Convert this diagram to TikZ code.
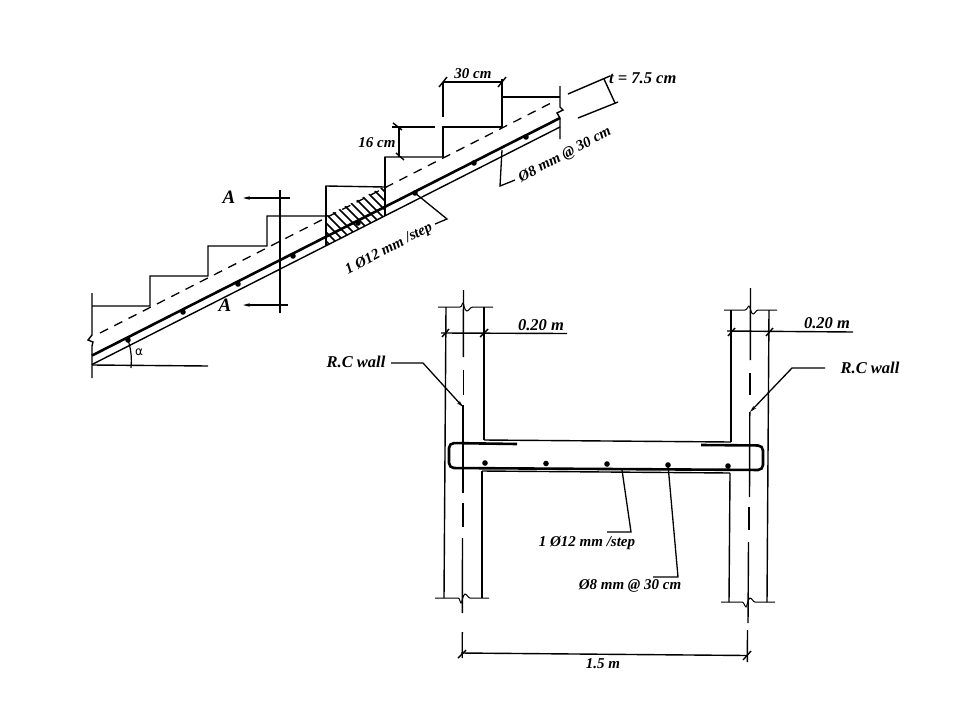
\documentclass[tikz,border=0pt]{standalone}
\usepackage{fontspec}
\setmainfont{Liberation Serif}
\newfontfamily\greekfont{DejaVu Sans}
\usetikzlibrary{arrows.meta}
\tikzset{
  thin line/.style={line width=1pt,black},
  main line/.style={line width=1.4pt,black},
  heavy line/.style={line width=2.6pt,black},
  bar dot/.style={circle,fill=black,inner sep=0pt,minimum size=5.6pt},
  lbl/.style={font=\fontsize{15pt}{17pt}\selectfont\bfseries\itshape,inner sep=0pt,black},
  lblbig/.style={font=\fontsize{16.5pt}{18pt}\selectfont\bfseries\itshape,inner sep=0pt,black},
  lblA/.style={font=\fontsize{19pt}{21pt}\selectfont\bfseries\itshape,inner sep=0pt,black},
  leader/.style={line width=1.3pt,black},
  aarrow/.style={line width=1.1pt,-{Stealth[length=7pt,width=3.5pt]}},
  slash/.style={line width=1.4pt,black}
}
\begin{document}
\begin{tikzpicture}[x=1pt,y=-1pt]
\useasboundingbox (0,0) rectangle (960,720);
\fill[white] (0,0) rectangle (960,720);

% ---------- stair ----------
\draw[main line] (92,293) -- (92,335) -- (88,340) -- (93,342) -- (92,346) -- (92,378);
\draw[main line] (560,86) -- (560,107) -- (563,110) -- (557,113) -- (560,118) -- (560,139);
\draw[main line] (92,306) -- (150,306) -- (150,276) -- (208,276) -- (208,246) -- (267,246)
  -- (267,216) -- (326,216) -- (326,186) -- (385,187) -- (385,157) -- (443,157);
\draw[main line] (443,157) -- (443,127) -- (502,127) -- (502,97) -- (560,97);
\draw[main line] (326,186) -- (326,245);
\draw[main line] (385,157) -- (385,216);
\draw[line width=1.3pt,dash pattern=on 9pt off 7pt] (100,333) -- (553,102);
\draw[heavy line] (92,355.5) -- (560,118);
\draw[main line] (92,364.5) -- (560,127);

% hatching
\begin{scope}
  \clip (326,216) -- (385,186) -- (385,216) -- (326,245.5) -- cycle;
  \foreach \c in {85,94,...,199}
    \draw[line width=1.5pt] (\c+150,150) -- (\c+250,250);
\end{scope}

% bars in the slope
\foreach \n/\x/\y in {a/128/340,b/183/312,c/238/284,d/293/256,e/358/223,f/415/193,g/474/163,h/526/137}
  \node[bar dot] (s\n) at (\x,\y) {};

% section A-A
\draw[main line] (280,190) -- (280,313);
\coordinate (at) at (290,198); \coordinate (ath) at (243,198);
\coordinate (ab) at (288,305); \coordinate (abh) at (243,305);
\draw[aarrow] (at) -- (ath);
\draw[aarrow] (ab) -- (abh);
\node[lblA] (lA1) at (229,197) {A};
\node[lblA] (lA2) at (225,305) {A};

% angle
\draw[main line] (92,365) -- (208,366);
\draw[thin line,line width=1.2pt] (128,340) .. controls (131,349) and (132,358) .. (131,368);
\node[font=\fontsize{12pt}{14pt}\selectfont\greekfont,inner sep=0pt] (lalpha) at (139,352) {α};

% 30 cm
\draw[main line] (443,83) -- (443,117);
\draw[main line] (502,79) -- (502,97);
\draw[main line] (443,82) -- (503,82);
\draw[slash] (439,87) -- (447,77);
\draw[slash] (498,87) -- (506,77);
\node[lbl] (l30) at (473,73.5) {30 cm};

% 16 cm
\draw[main line] (392,127) -- (435,127);
\draw[main line] (399,127) -- (399,157);
\draw[slash] (393,123) -- (402,130);
\draw[slash] (396,153) -- (404,160);
\node[lbl] (l16) at (377,143) {16 cm};

% t
\draw[main line] (568,94) -- (610,76);
\draw[main line] (578,118) -- (618,102);
\draw[main line] (604,79) -- (615,103);
\node[lblbig,anchor=west] (lt) at (609,78) {t = 7.5 cm};

% leaders, stair
\coordinate (l8a) at (500,186); \coordinate (l8b) at (515,180);
\draw[leader] (502,150) -- (l8a) -- (l8b);
\node[lbl,rotate=28] (l8) at (565,155) {Ø8 mm @ 30 cm};
\coordinate (l12a) at (447,219); \coordinate (l12b) at (435,224);
\draw[leader] (sf.center) -- (l12a) -- (l12b);
\node[lbl,rotate=28] (l12) at (389,249) {1 Ø12 mm /step};

% ---------- left wall ----------
\draw[main line] (446,307) -- (444,598);
\draw[main line] (484,307) -- (484,440);
\draw[main line] (482,471) -- (482,598);
\draw[thin line] (438,307) -- (460,307) .. controls (462,307) and (462,303) .. (463,303)
  .. controls (464,303) and (464,311) .. (467,311) .. controls (469,311) and (470,307) .. (473,307) -- (493,307);
\draw[thin line] (435,598) -- (458,598) .. controls (460,598) and (460,603) .. (461,603)
  .. controls (462,603) and (463,594) .. (465,594) .. controls (467,594) and (468,598) .. (470,598) -- (489,598);
\foreach \a/\b/\p/\q in {290/357/463.5/463.3,370/395/463.2/463.2,405/493/463/463,503/527/462.8/462.8,538/613/462.5/462.3,632/658/462.3/462.2}
  \draw[main line] (\p,\a) -- (\q,\b);

% ---------- right wall ----------
\draw[main line] (731,310) -- (731,442);
\draw[main line] (730,473) -- (729,602);
\draw[main line] (769,310) -- (767,602);
\draw[thin line] (724,310) -- (745,310) .. controls (747,310) and (748,306) .. (749,306)
  .. controls (750,306) and (751,314) .. (753,314) .. controls (755,314) and (756,310) .. (758,310) -- (777,310);
\draw[thin line] (721,602) -- (742,602) .. controls (744,602) and (745,607) .. (746,607)
  .. controls (747,607) and (748,598) .. (750,598) .. controls (752,598) and (753,602) .. (755,602) -- (775,602);
\foreach \a/\b/\p/\q in {288/360/750.5/750.3,373/395/750/750,412/497/749.8/749.5,507/530/749/749,542/623/748.5/748,630/662/747.5/747.3}
  \draw[main line] (\p,\a) -- (\q,\b);

% ---------- slab ----------
\draw[main line] (484,440) -- (731,442);
\draw[main line] (482,471) -- (730,473);
\draw[heavy line,rounded corners=5pt] (517,444) -- (449,443) -- (449,468) -- (763,470) -- (763,445.5) -- (701,445);
\foreach \n/\x/\y in {a/485/463,b/546/463.5,c/607/464,d/668/465,e/728/466}
  \node[bar dot] (w\n) at (\x,\y) {};

% dims on the walls
\draw[main line] (441,333) -- (567,333.5);
\draw[slash] (442,337) -- (449,329);
\draw[slash] (480,337) -- (488,329);
\node[lblbig] (l020a) at (541,325) {0.20 m};
\draw[main line] (727,331) -- (853,332);
\draw[slash] (728,336) -- (735,328);
\draw[slash] (766,336) -- (773,328);
\node[lblbig] (l020b) at (827,323) {0.20 m};

% 1.5 m
\draw[main line] (461,653) -- (747,655.5);
\draw[slash] (458,658) -- (466,650);
\draw[slash] (743,660) -- (751,651);
\node[lbl] (l15) at (603,664) {1.5 m};

% R.C wall leaders
\node[lblbig] (rcl) at (356,362) {R.C wall};
\coordinate (rcl1) at (423,363); \coordinate (rcltip) at (463,407);
\draw[leader,-{Stealth[length=7pt,width=3.5pt]}] (391,363) -- (rcl1) -- (rcltip);
\node[lblbig] (rcr) at (870,368) {R.C wall};
\coordinate (rcr1) at (792,368); \coordinate (rcrtip) at (750,412);
\draw[leader,-{Stealth[length=7pt,width=3.5pt]}] (825,368) -- (rcr1) -- (rcrtip);

% leaders, slab
\coordinate (m12a) at (622,470); \coordinate (m12b) at (631,532); \coordinate (m12c) at (607,532);
\draw[leader] (m12a) -- (m12b) -- (m12c);
\node[lbl] (t12) at (587,543) {1 Ø12 mm /step};
\coordinate (m8b) at (678,577); \coordinate (m8c) at (653,577);
\draw[leader] (wd.center) -- (m8b) -- (m8c);
\node[lbl] (t8) at (630,586) {Ø8 mm @ 30 cm};
\end{tikzpicture}
\end{document}
